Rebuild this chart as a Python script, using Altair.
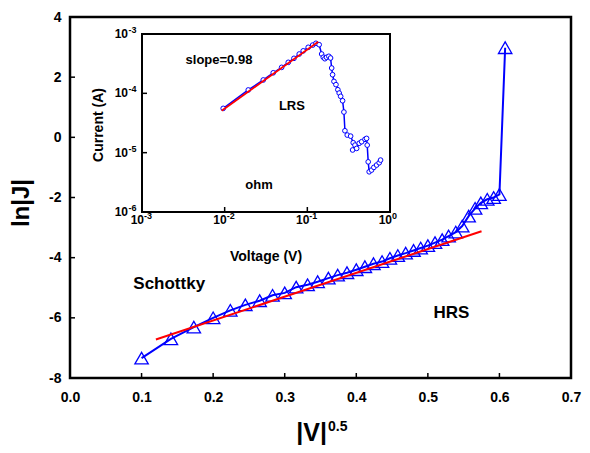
import altair as alt
import pandas as pd

# ---- main panel data: |V|^0.5 vs ln|J| ----
main_x = [0.100, 0.141, 0.173, 0.200, 0.224, 0.245, 0.265, 0.283, 0.300, 0.316,
          0.332, 0.346, 0.361, 0.374, 0.387, 0.400, 0.412, 0.424, 0.436, 0.447,
          0.458, 0.469, 0.480, 0.490, 0.500, 0.510, 0.520, 0.529, 0.539, 0.548,
          0.557, 0.566, 0.574, 0.583, 0.592, 0.600, 0.608]
main_y = [-7.34, -6.70, -6.31, -6.00, -5.75, -5.57, -5.43, -5.25, -5.17, -4.98,
          -4.90, -4.80, -4.68, -4.58, -4.50, -4.40, -4.30, -4.20, -4.13, -4.02,
          -3.93, -3.85, -3.76, -3.68, -3.60, -3.50, -3.40, -3.28, -3.15, -2.95,
          -2.62, -2.36, -2.18, -2.06, -2.00, -1.90, 2.98]
fit_x = [0.120, 0.575]
fit_y = [-6.72, -3.12]
x_ticks = [0.0, 0.1, 0.2, 0.3, 0.4, 0.5, 0.6, 0.7]
y_ticks = [-8, -6, -4, -2, 0, 2, 4]
main_notes = ["Schottky", "HRS"]
main_note_x = [0.1386, 0.533]
main_note_y = [-4.89, -5.85]

# ---- inset data: Voltage vs Current (log-log) ----
inset_v = [0.0096, 0.0193, 0.0293, 0.0387, 0.0489, 0.0588, 0.0689, 0.0798, 0.0892, 0.1025,
           0.116, 0.127, 0.139, 0.149, 0.156, 0.163, 0.171, 0.182, 0.191, 0.197,
           0.202, 0.210, 0.222, 0.234, 0.243, 0.253, 0.267, 0.277, 0.285, 0.304,
           0.334, 0.359, 0.377, 0.353, 0.395, 0.424, 0.454, 0.498, 0.521, 0.530,
           0.545, 0.560, 0.598, 0.638, 0.688, 0.740, 0.769]
inset_i = [5.58e-5, 1.14e-4, 1.68e-4, 2.22e-4, 2.74e-4, 3.33e-4, 3.89e-4, 4.6e-4, 5.2e-4, 5.97e-4,
           6.5e-4, 6.97e-4, 6.6e-4, 4.6e-4, 4.05e-4, 3.83e-4, 4.05e-4, 4.21e-4, 3.94e-4, 2.67e-4,
           2.06e-4, 1.59e-4, 1.40e-4, 1.15e-4, 1.01e-4, 8.9e-5, 7.5e-5, 4.84e-5, 2.34e-5, 1.98e-5,
           1.9e-5, 1.47e-5, 1.34e-5, 1.11e-5, 1.18e-5, 1.44e-5, 1.53e-5, 1.68e-5, 1.74e-5, 1.34e-5,
           7.0e-6, 4.76e-6, 5.09e-6, 5.65e-6, 6.18e-6, 6.76e-6, 7.5e-6]
inset_fit_v = [0.0092, 0.1355]
inset_fit_i = [5.09e-5, 7.42e-4]
inset_v_ticks = [1e-3, 1e-2, 1e-1, 1e0]
inset_v_exp = ["-3", "-2", "-1", "0"]
inset_i_ticks = [1e-6, 1e-5, 1e-4, 1e-3]
inset_i_exp = ["-6", "-5", "-4", "-3"]
inset_notes = ["slope=0.98", "LRS", "ohm"]
inset_note_v = [0.00853, 0.0651, 0.026]
inset_note_i = [3.65e-4, 6.1e-5, 2.84e-6]

FONT = "Liberation Sans"
W, H = 501, 361
BLUE = "#0000ff"
RED = "#ff0000"

# ---------------- main panel ----------------
mdf = pd.DataFrame({"x": main_x, "y": main_y, "k": list(range(len(main_x)))})
fdf = pd.DataFrame({"x": fit_x, "y": fit_y})
xsc = alt.Scale(domain=[0, 0.7], nice=False, zero=False)
ysc = alt.Scale(domain=[-8, 4], nice=False, zero=False)

xaxis = alt.Axis(values=x_ticks, format=".1f", title=None, grid=False, ticks=False,
                 domain=False, labelFont=FONT, labelFontSize=14, labelFontWeight="bold",
                 labelColor="black", labelPadding=12, labelFlush=False)
yaxis = alt.Axis(values=y_ticks, labelExpr="'' + datum.value", title=None, grid=False, ticks=False,
                 domain=False, labelFont=FONT, labelFontSize=14, labelFontWeight="bold",
                 labelColor="black", labelPadding=9, labelFlush=False)

m_line = alt.Chart(mdf).mark_line(color=BLUE, strokeWidth=2).encode(
    x=alt.X("x:Q", scale=xsc, axis=xaxis),
    y=alt.Y("y:Q", scale=ysc, axis=yaxis),
    order="k:Q")
m_pts = alt.Chart(mdf).mark_point(shape="triangle-up", filled=False, color=BLUE,
                                  size=180, strokeWidth=1.3, opacity=1).encode(
    x=alt.X("x:Q", scale=xsc), y=alt.Y("y:Q", scale=ysc))
m_fit = alt.Chart(fdf).mark_line(color=RED, strokeWidth=2).encode(
    x=alt.X("x:Q", scale=xsc), y=alt.Y("y:Q", scale=ysc))
m_xt = alt.Chart(pd.DataFrame({"x": x_ticks})).mark_rule(color="black", strokeWidth=1.5).encode(
    x=alt.X("x:Q", scale=xsc), y=alt.value(H), y2=alt.value(H - 5))
m_yt = alt.Chart(pd.DataFrame({"y": y_ticks})).mark_rule(color="black", strokeWidth=1.5).encode(
    y=alt.Y("y:Q", scale=ysc), x=alt.value(0), x2=alt.value(5))
m_notes = alt.Chart(pd.DataFrame({"x": main_note_x, "y": main_note_y, "t": main_notes})).mark_text(
    font=FONT, fontSize=17, fontWeight="bold", color="black", baseline="middle").encode(
    x=alt.X("x:Q", scale=xsc), y=alt.Y("y:Q", scale=ysc), text="t:N")

x_title = alt.Chart(pd.DataFrame({"t": ["|V|"]})).mark_text(
    font=FONT, fontSize=25, fontWeight="bold", color="black", align="right",
    baseline="alphabetic").encode(x=alt.value(257), y=alt.value(424), text="t:N")
x_title_sup = alt.Chart(pd.DataFrame({"t": ["0.5"]})).mark_text(
    font=FONT, fontSize=14, fontWeight="bold", color="black", align="left",
    baseline="alphabetic").encode(x=alt.value(258), y=alt.value(414), text="t:N")
y_title = alt.Chart(pd.DataFrame({"t": ["ln|J|"]})).mark_text(
    font=FONT, fontSize=24, fontWeight="bold", color="black", align="center",
    baseline="middle", angle=270).encode(x=alt.value(-48), y=alt.value(186), text="t:N")

main = alt.layer(m_line, m_pts, m_fit, m_xt, m_yt, m_notes, x_title, x_title_sup, y_title)

# ---------------- inset panel ----------------
ixsc = alt.Scale(type="log", domain=[1e-3, 1], range=[72, 320], nice=False)
iysc = alt.Scale(type="log", domain=[1e-6, 1e-3], range=[195, 17], nice=False)

idf = pd.DataFrame({"V": inset_v, "I": inset_i, "k": list(range(len(inset_v)))})
ifdf = pd.DataFrame({"V": inset_fit_v, "I": inset_fit_i})
frame_df = pd.DataFrame({"V": [inset_v_ticks[0]], "V2": [inset_v_ticks[-1]],
                         "I": [inset_i_ticks[0]], "I2": [inset_i_ticks[-1]]})

i_frame = alt.Chart(frame_df).mark_rect(fill="white", stroke="black", strokeWidth=2).encode(
    x=alt.X("V:Q", scale=ixsc, axis=None), x2="V2:Q",
    y=alt.Y("I:Q", scale=iysc, axis=None), y2="I2:Q")
i_xt = alt.Chart(pd.DataFrame({"V": inset_v_ticks})).mark_rule(color="black", strokeWidth=1.5).encode(
    x=alt.X("V:Q", scale=ixsc, axis=None), y=alt.value(195), y2=alt.value(190))
i_yt = alt.Chart(pd.DataFrame({"I": inset_i_ticks})).mark_rule(color="black", strokeWidth=1.5).encode(
    y=alt.Y("I:Q", scale=iysc, axis=None), x=alt.value(72), x2=alt.value(77))

xl_df = pd.DataFrame({"V": inset_v_ticks, "b": ["10"] * 4, "e": inset_v_exp})
i_xl = alt.Chart(xl_df).mark_text(font=FONT, fontSize=12, fontWeight="bold", color="black",
                                  align="right", baseline="alphabetic", dx=2).encode(
    x=alt.X("V:Q", scale=ixsc, axis=None), y=alt.value(207), text="b:N")
i_xe = alt.Chart(xl_df).mark_text(font=FONT, fontSize=9, fontWeight="bold", color="black",
                                  align="left", baseline="alphabetic", dx=2).encode(
    x=alt.X("V:Q", scale=ixsc, axis=None), y=alt.value(201.5), text="e:N")
yl_df = pd.DataFrame({"I": inset_i_ticks, "b": ["10"] * 4, "e": inset_i_exp})
i_yl = alt.Chart(yl_df).mark_text(font=FONT, fontSize=12, fontWeight="bold", color="black",
                                  align="right", baseline="middle").encode(
    y=alt.Y("I:Q", scale=iysc, axis=None), x=alt.value(58), text="b:N")
i_ye = alt.Chart(yl_df).mark_text(font=FONT, fontSize=9, fontWeight="bold", color="black",
                                  align="left", baseline="middle", dy=-4).encode(
    y=alt.Y("I:Q", scale=iysc, axis=None), x=alt.value(58.5), text="e:N")

i_line = alt.Chart(idf).mark_line(color=BLUE, strokeWidth=1.5).encode(
    x=alt.X("V:Q", scale=ixsc, axis=None), y=alt.Y("I:Q", scale=iysc, axis=None), order="k:Q")
i_pts = alt.Chart(idf).mark_point(shape="circle", filled=True, fill="white", stroke=BLUE,
                                  size=22, strokeWidth=1, opacity=1).encode(
    x=alt.X("V:Q", scale=ixsc, axis=None), y=alt.Y("I:Q", scale=iysc, axis=None))
i_fit = alt.Chart(ifdf).mark_line(color=RED, strokeWidth=1.8).encode(
    x=alt.X("V:Q", scale=ixsc, axis=None), y=alt.Y("I:Q", scale=iysc, axis=None))
i_notes = alt.Chart(pd.DataFrame({"V": inset_note_v, "I": inset_note_i, "t": inset_notes})).mark_text(
    font=FONT, fontSize=13, fontWeight="bold", color="black", baseline="middle").encode(
    x=alt.X("V:Q", scale=ixsc, axis=None), y=alt.Y("I:Q", scale=iysc, axis=None), text="t:N")
i_xtitle = alt.Chart(pd.DataFrame({"t": ["Voltage (V)"]})).mark_text(
    font=FONT, fontSize=14, fontWeight="bold", color="black", align="center",
    baseline="middle").encode(x=alt.value(196), y=alt.value(240), text="t:N")
i_ytitle = alt.Chart(pd.DataFrame({"t": ["Current (A)"]})).mark_text(
    font=FONT, fontSize=14, fontWeight="bold", color="black", align="center",
    baseline="middle", angle=270).encode(x=alt.value(28.5), y=alt.value(108), text="t:N")

inset = alt.layer(i_frame, i_xt, i_yt, i_xl, i_xe, i_yl, i_ye, i_line, i_pts, i_fit,
                  i_notes, i_xtitle, i_ytitle)

chart = alt.layer(main, inset).resolve_scale(x="independent", y="independent").properties(
    width=W, height=H,
    autosize=alt.AutoSizeParams(type="none"),
    padding={"left": 62, "top": 9, "right": 11, "bottom": 67},
    background="white",
).configure_view(stroke="black", strokeWidth=2.5)

chart.save("out.html", embed_options={"renderer": "svg", "actions": False})
